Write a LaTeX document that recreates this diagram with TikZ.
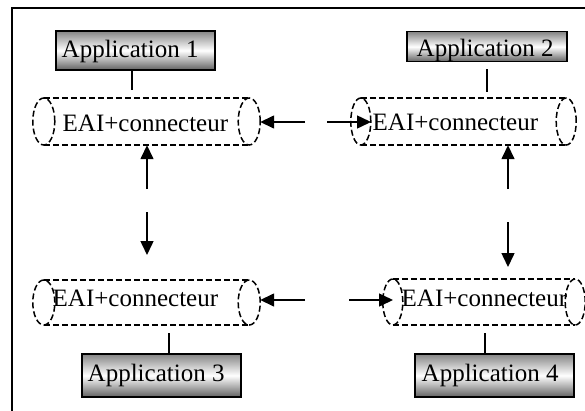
\documentclass[tikz,border=0pt]{standalone}
\usepackage{fontspec}
\setmainfont{Liberation Serif}
\usetikzlibrary{arrows.meta}

\tikzset{
  appbox/.style={draw, line width=1.3pt, top color=black!48, bottom color=black!62,
    middle color=white, inner sep=0pt},
  lbl/.style={font=\fontsize{25}{30}\selectfont, inner sep=0pt, anchor=base west},
  canbox/.style={rectangle, draw=none, inner sep=0pt},
  canline/.style={dash pattern=on 6pt off 3pt, line width=1.5pt},
  link/.style={line width=1.5pt},
  flow/.style={line width=1.5pt, -{Triangle[length=14pt,width=13pt]}},
  frameline/.style={line width=1.8pt}
}

% dashed horizontal can: name, x0, x1, ytop, ybottom, end radius
\newcommand\eaican[6]{%
  \node[canbox, minimum width={(#3-#2)*1pt}, minimum height={(#5-#4)*1pt}]
    (#1) at ({(#2+#3)/2},{(#4+#5)/2}) {};
  \draw[canline] ([xshift=#6pt]#1.north west) -- ([xshift=-#6pt]#1.north east);
  \draw[canline] ([xshift=#6pt]#1.south west) -- ([xshift=-#6pt]#1.south east);
  \draw[canline] ([xshift=#6pt]#1.west) ellipse [x radius=#6pt, y radius={(#5-#4)/2*1pt}];
  \draw[canline] ([xshift=-#6pt]#1.east) ellipse [x radius=#6pt, y radius={(#5-#4)/2*1pt}];
}

\begin{document}
\begin{tikzpicture}[x=1pt,y=-1pt]
  \path[use as bounding box] (0,0) rectangle (585,410);

  % outer frame (runs off the right and bottom edges)
  \coordinate (frbl) at (11.7,412);
  \coordinate (frtl) at (11.7,8);
  \coordinate (frtr) at (587,8);
  \draw[frameline] (frbl) -- (frtl) -- (frtr);

  % applications
  \node[appbox, minimum width=159pt, minimum height=39pt] (app1) at (135.5,50.5) {};
  \node[lbl] (app1t) at (61.5,57.7) {Application 1};
  \node[appbox, minimum width=160pt, minimum height=30pt] (app2) at (487,46.7) {};
  \node[lbl] (app2t) at (416.5,56) {Application 2};
  \node[appbox, minimum width=159pt, minimum height=43pt] (app3) at (161.5,375.5) {};
  \node[lbl] (app3t) at (87.5,381.7) {Application 3};
  \node[appbox, minimum width=159pt, minimum height=43pt] (app4) at (494.5,375.5) {};
  \node[lbl] (app4t) at (421.5,381.7) {Application 4};

  % EAI connectors
  \eaican{cyl1}{33}{260}{98}{145}{11}
  \eaican{cyl2}{351}{576}{98}{145}{10}
  \eaican{cyl3}{33}{260}{280}{325}{11}
  \eaican{cyl4}{383}{585}{279}{325}{10}
  \node[lbl] (cyl1t) at (62.5,131) {EAI+connecteur};
  \node[lbl] (cyl2t) at (372.5,130) {EAI+connecteur};
  \node[lbl] (cyl3t) at (52.5,306) {EAI+connecteur};
  \node[lbl] (cyl4t) at (401.5,306) {EAI+connecteur};

  % application links
  \coordinate (l1) at (132,90);
  \draw[link] (l1 |- app1.south) -- (l1);
  \coordinate (l2a) at (487,69);
  \coordinate (l2b) at (487,92);
  \draw[link] (l2a) -- (l2b);
  \coordinate (l3) at (169,333);
  \draw[link] (l3) -- (l3 |- app3.north);
  \coordinate (l4) at (485,333);
  \draw[link] (l4) -- (l4 |- app4.north);

  % top exchange
  \coordinate (h1a) at (305,122);
  \coordinate (h1b) at (327,122);
  \coordinate (h1c) at (371,122);
  \draw[flow] (h1a) -- (h1a -| cyl1.east);
  \draw[flow] (h1b) -- (h1c);

  % bottom exchange
  \coordinate (h2a) at (305,300);
  \coordinate (h2b) at (349,300);
  \coordinate (h2c) at (393,300);
  \draw[flow] (h2a) -- (h2a -| cyl3.east);
  \draw[flow] (h2b) -- (h2c);

  % left exchange
  \coordinate (v1a) at (147,189);
  \coordinate (v1b) at (147,212);
  \coordinate (v1c) at (147,255);
  \draw[flow] (v1a) -- (v1a |- cyl1.south);
  \draw[flow] (v1b) -- (v1c);

  % right exchange
  \coordinate (v2a) at (508,189);
  \coordinate (v2b) at (508,222);
  \coordinate (v2c) at (508,267);
  \draw[flow] (v2a) -- (v2a |- cyl2.south);
  \draw[flow] (v2b) -- (v2c);
\end{tikzpicture}
\end{document}
